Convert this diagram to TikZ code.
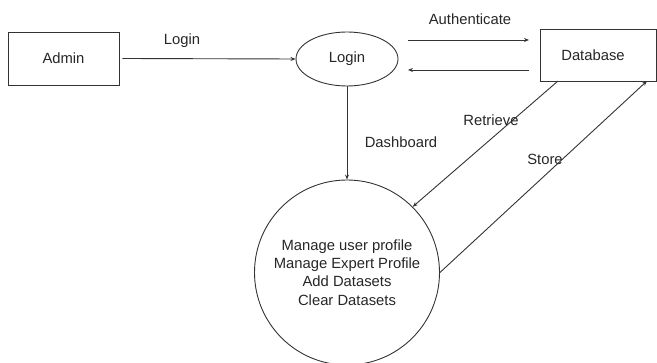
\documentclass[tikz,border=0pt]{standalone}
\usepackage{fontspec}
\setmainfont{Liberation Sans}
\usetikzlibrary{arrows.meta,shapes.geometric}
\begin{document}
\begin{tikzpicture}[x=1pt,y=-1pt,
  every node/.style={font=\fontsize{14.8}{18.3}\selectfont, text=black!85},
  entity/.style={draw=black!80, line width=0.9pt, rectangle, inner sep=0pt},
  proc/.style={draw=black!80, line width=0.9pt, inner sep=0pt},
  flow/.style={draw=black!80, line width=0.9pt, -{Stealth[length=5pt,width=4pt]}},
  lbl/.style={inner sep=1pt}]
\useasboundingbox (0,0) rectangle (657,363);

% external entities
\node[entity, minimum width=111pt, minimum height=53pt] (admin) at (63.5,58.5) {Admin};
\node[entity, minimum width=116pt, minimum height=52pt] (db) at (598,55) {};
\node at (593,55) {Database};

% processes
\node[proc, ellipse, minimum width=102pt, minimum height=54pt] (login) at (347,59) {Login};
\node[proc, circle, minimum size=185pt, align=center] (mgr) at (347,272.5)
  {Manage user profile\\Manage Expert Profile\\Add Datasets\\Clear Datasets};

% free ends of the authentication flows
\coordinate (authA) at (408,40);
\coordinate (authB) at (529,40);
\coordinate (backA) at (529,70);
\coordinate (backB) at (408,70);
\coordinate (retA) at (558,81);
\coordinate (stoB) at (647,81);

% flows
\draw[flow] (admin.east) ++(3,0) -- (login.west);
\draw[flow] (authA) -- (authB);
\draw[flow] (backA) -- (backB);
\draw[flow] (login.south) -- (mgr.north);
\draw[flow] (retA) -- (mgr.45);
\draw[flow] (mgr.east) -- (stoB);

% flow labels
\node[lbl] (l1) at (182,41) {Login};
\node[lbl] (l2) at (470,19) {Authenticate};
\node[lbl] (l3) at (401,142) {Dashboard};
\node[lbl] (l4) at (491,120) {Retrieve};
\node[lbl] (l5) at (545,159) {Store};
\end{tikzpicture}
\end{document}
